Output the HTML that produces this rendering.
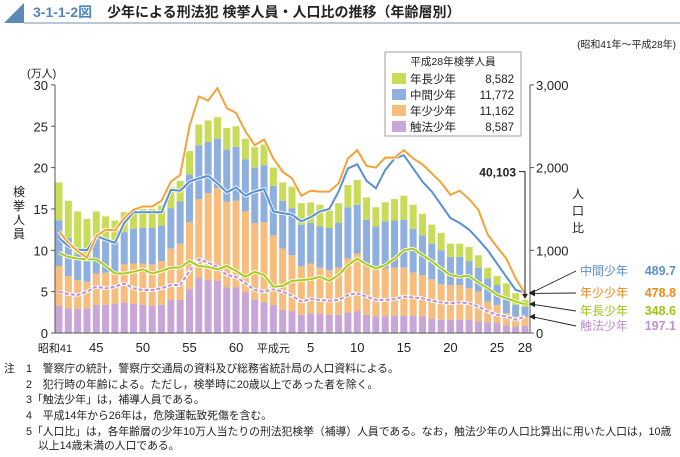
<!DOCTYPE html>
<html><head><meta charset="utf-8"><style>
body{margin:0;background:#fff;width:680px;height:452px;overflow:hidden;font-family:"Liberation Sans","Noto Sans CJK JP",sans-serif;}
svg text{font-family:"Liberation Sans","Noto Sans CJK JP",sans-serif;}
</style></head><body>
<svg id="c" width="680" height="452" viewBox="0 0 680 452" xmlns="http://www.w3.org/2000/svg">
<polygon points="4,23 24,3 24,23" fill="#5b8ab8"/>
<line x1="24" y1="23" x2="680" y2="23" stroke="#9fb5cc" stroke-width="1.5"/>
<text x="33" y="17" font-size="14" font-weight="bold" fill="#4f86c0">3-1-1-2図</text>
<text x="107" y="17" font-size="14" font-weight="bold" fill="#222">少年による刑法犯 検挙人員・人口比の推移（年齢層別）</text>
<text x="676" y="48" font-size="10" fill="#222" text-anchor="end">(昭和41年～平成28年)</text>
<text x="27" y="77" font-size="11" fill="#222">(万人)</text>
<g font-size="12" fill="#222">
<text x="19" y="196" text-anchor="middle">検</text><text x="19" y="210" text-anchor="middle">挙</text><text x="19" y="224" text-anchor="middle">人</text><text x="19" y="238" text-anchor="middle">員</text></g>
<g font-size="12" fill="#222">
<text x="578" y="198" text-anchor="middle">人</text><text x="578" y="215" text-anchor="middle">口</text><text x="578" y="232" text-anchor="middle">比</text></g>
<g id="bars"></g><g id="lines"></g><g id="axes"></g>
<g>
<rect x="385" y="52" width="136" height="84" fill="#fff" stroke="#888" stroke-width="0.8"/>
<text x="453" y="65" font-size="10.5" text-anchor="middle" fill="#222">平成28年検挙人員</text>
<g id="leg"></g></g>
<g id="endlabels"></g>
<g font-size="10.8" fill="#222">
<text x="4" y="372">注</text>
<text x="26" y="372">1　警察庁の統計，警察庁交通局の資料及び総務省統計局の人口資料による。</text>
<text x="26" y="388">2　犯行時の年齢による。ただし，検挙時に20歳以上であった者を除く。</text>
<text x="26" y="403">3「触法少年」は，補導人員である。</text>
<text x="26" y="419">4　平成14年から26年は，危険運転致死傷を含む。</text>
<text x="26" y="435">5「人口比」は，各年齢層の少年10万人当たりの刑法犯検挙（補導）人員である。なお，触法少年の人口比算出に用いた人口は，10歳</text>
<text x="38" y="449">以上14歳未満の人口である。</text>
</g>
</svg>
<script>
const years=["昭和41","42","43","44","45","46","47","48","49","50","51","52","53","54","55","56","57","58","59","60","61","62","63","平成元","2","3","4","5","6","7","8","9","10","11","12","13","14","15","16","17","18","19","20","21","22","23","24","25","26","27","28"];
const xTickLabels={0:"昭和41",4:"45",9:"50",14:"55",19:"60",23:"平成元",27:"5",32:"10",37:"15",42:"20",47:"25",50:"28"};
const shokuho=[3.3,3.0,2.9,3.0,3.4,3.4,3.5,3.7,3.5,3.4,3.3,3.4,4.0,4.0,5.3,6.7,6.4,6.3,5.5,5.5,4.9,4.0,3.7,3.4,2.8,2.6,2.2,2.4,2.3,2.2,2.2,2.5,2.6,2.2,2.0,2.0,2.1,2.1,2.1,2.0,1.7,1.6,1.6,1.6,1.6,1.4,1.3,1.2,0.9,0.8,0.8587];
const nensho=[4.8,3.9,3.5,3.2,3.8,3.9,3.9,4.6,4.9,5.0,5.0,5.3,6.2,6.8,8.1,9.5,10.5,11.2,10.4,10.5,9.8,9.3,9.7,8.4,7.4,6.8,5.9,6.0,5.6,5.4,5.7,6.5,7.0,6.0,5.8,5.8,5.8,5.8,5.2,5.0,4.8,4.3,4.2,4.2,3.8,3.6,2.5,2.2,1.5,1.2,1.1162];
const chukan=[5.5,4.6,3.1,3.1,4.2,4.0,3.6,3.9,4.2,4.3,4.4,4.3,4.9,5.1,5.8,6.5,6.2,6.0,6.3,6.5,6.3,6.7,6.9,6.0,5.8,5.7,5.0,4.9,5.0,5.1,5.4,6.2,5.9,5.5,5.1,5.7,5.7,5.8,5.3,4.8,4.3,4.1,3.4,3.4,3.3,2.9,2.8,2.4,2.0,1.4,1.1772];
const nencho=[4.6,4.5,5.2,4.5,3.3,2.8,2.6,2.4,2.2,2.3,2.3,2.4,2.5,2.5,2.8,2.5,2.6,2.6,2.6,2.5,2.5,2.5,2.5,2.2,2.2,2.6,2.6,2.5,2.6,2.1,2.4,2.7,3.0,2.7,2.3,2.3,2.6,2.9,2.9,2.6,2.3,2.1,1.6,1.6,1.7,1.5,1.3,1.1,1.6,1.4,0.8582];
const rateNensho=[1230,1090,990,910,1170,1250,1240,1390,1490,1530,1530,1600,1830,1910,2500,2860,2810,2960,2720,2660,2440,2270,2340,2110,1950,1870,1660,1720,1710,1710,1810,2110,2210,2020,2000,2120,2120,2210,2110,2040,1930,1820,1670,1720,1620,1490,1190,1040,900,660,478.8];
const rateChukan=[1150,1050,1010,1000,1170,1130,1090,1330,1460,1460,1460,1460,1730,1720,1830,1870,1900,1810,1700,1760,1660,1710,1740,1470,1450,1430,1350,1400,1470,1500,1710,1990,2040,1840,1750,1970,2110,2150,1990,1830,1710,1550,1390,1330,1250,1130,1000,840,680,520,489.7];
const rateNencho=[970,920,900,890,890,810,720,720,740,770,720,750,790,790,870,810,800,770,810,750,680,740,700,560,570,630,640,650,680,630,700,820,900,830,780,820,900,1000,1020,940,870,780,700,680,690,610,540,460,420,380,348.6];
const rateShokuho=[500,470,460,500,560,540,560,600,540,520,520,540,580,580,750,890,850,800,700,680,600,520,500,530,500,450,380,410,400,390,400,460,480,440,400,400,410,440,430,420,390,370,360,370,360,320,260,220,200,160,197.1];
const legendNames=["年長少年","中間少年","年少少年","触法少年"];
const legendValues=["8,582","11,772","11,162","8,587"];
const endNames=["中間少年","年少少年","年長少年","触法少年"];
const endValues=["489.7","478.8","348.6","197.1"];
const yTicks=[0,5,10,15,20,25,30];
const y2Ticks=[0,1000,2000,3000];
const y2TickLabels=["0","1,000","2,000","3,000"];
const totalLabel="40,103";

const NS="http://www.w3.org/2000/svg";
const X0=59,DX=9.32,Y0=333,PX=8.27,BW=7;
const xs=i=>X0+i*DX, ys=v=>Y0-v*PX, ys2=v=>Y0-v/100*PX;
function mk(t,a,p){const e=document.createElementNS(NS,t);for(const k in a)e.setAttribute(k,a[k]);p.appendChild(e);return e;}
const cols={sh:"#c9a6d8",ns:"#f7bd7c",ck:"#8fb0de",nc:"#c8dc5a"};
const bars=document.getElementById('bars');
const series=[[shokuho,cols.sh,'shokuho'],[nensho,cols.ns,'nensho'],[chukan,cols.ck,'chukan'],[nencho,cols.nc,'nencho']];
years.forEach((y,i)=>{let base=0;series.forEach(([arr,c,n])=>{const v=arr[i];
 const r=mk('rect',{x:xs(i)-BW/2,y:ys(base+v),width:BW,height:v*PX,fill:c},bars);
 
 
 base+=v;});});
const lines=document.getElementById('lines');
function line(arr,c,n,dash){const pts=arr.map((v,i)=>xs(i)+','+ys2(v)).join(' ');
 mk('polyline',{points:pts,fill:'none',stroke:'#fff','stroke-width':3.6},lines);
 const p=mk('polyline',{points:pts,fill:'none',stroke:c,'stroke-width':2,'stroke-dasharray':dash||'none'},lines);
 
 }
line(rateShokuho,'#c08fd6','rate-shokuho','4,2');
line(rateNencho,'#a9cc1e','rate-nencho');
line(rateChukan,'#5a8fd0','rate-chukan');
line(rateNensho,'#f2a33a','rate-nensho');
const ax=document.getElementById('axes');
mk('line',{x1:55,y1:85,x2:55,y2:Y0,stroke:'#555','stroke-width':1},ax);
mk('line',{x1:55,y1:Y0,x2:530,y2:Y0,stroke:'#555','stroke-width':1},ax);
mk('line',{x1:530,y1:85,x2:530,y2:Y0,stroke:'#555','stroke-width':1},ax);
yTicks.forEach(v=>{mk('line',{x1:51,y1:ys(v),x2:55,y2:ys(v),stroke:'#555'},ax);
 const t=mk('text',{x:48,y:ys(v)+5,'font-size':13,'text-anchor':'end',fill:'#222'},ax);t.textContent=v;
 
 });
y2Ticks.forEach((v,k)=>{mk('line',{x1:530,y1:ys2(v),x2:534,y2:ys2(v),stroke:'#555'},ax);
 const t=mk('text',{x:536,y:ys2(v)+5,'font-size':13,fill:'#222'},ax);t.textContent=y2TickLabels[k];
 
 });
Object.keys(xTickLabels).forEach(k=>{const i=+k;const lab=xTickLabels[k];
 const t=mk('text',{x:xs(i),y:352,'font-size':lab.length>2?11:13,'text-anchor':'middle',fill:'#222'},ax);t.textContent=lab;
 if(i===0)t.setAttribute('x',xs(i)-4);
 
 });
const last=years.length-1, tot=shokuho[last]+nensho[last]+chukan[last]+nencho[last];
mk('path',{d:`M519,${ys(20)+4} H525 V${ys(tot)-3}`,fill:'none',stroke:'#222','stroke-width':1},ax);
mk('polygon',{points:`${xs(last)-3},${ys(tot)-6} ${xs(last)+3},${ys(tot)-6} ${xs(last)},${ys(tot)-1}`,fill:'#222'},ax);
const tl=mk('text',{x:516,y:ys(20)+9,'font-size':12,'font-weight':'bold','text-anchor':'end',fill:'#222'},ax);tl.textContent=totalLabel;


const leg=document.getElementById('leg');const lc=[cols.nc,cols.ck,cols.ns,cols.sh];
legendNames.forEach((n,k)=>{const y=73+k*16;mk('rect',{x:392,y:y,width:14,height:11,fill:lc[k]},leg);
 const a=mk('text',{x:410,y:y+10,'font-size':11.5,fill:'#222'},leg);a.textContent=n;
 const b=mk('text',{x:514,y:y+10,'font-size':11.5,'text-anchor':'end',fill:'#222'},leg);b.textContent=legendValues[k];
 
 });
const el=document.getElementById('endlabels');
const ec=['#5a8fd0','#ee8a1a','#a2c21a','#c08fd6'];const ey=[275,297,315,330];
const endVals=[rateChukan[last],rateNensho[last],rateNencho[last],rateShokuho[last]];
endNames.forEach((n,k)=>{const a=mk('text',{x:580,y:ey[k],'font-size':12,fill:ec[k]},el);a.textContent=n;
 
 
 const b=mk('text',{x:676,y:ey[k],'font-size':12.5,'font-weight':'bold','text-anchor':'end',fill:ec[k]},el);b.textContent=endValues[k];
 const ty=ys2(endVals[k]);const tx=xs(last)+4;
 mk('line',{x1:576,y1:ey[k]-4,x2:tx+3,y2:ty,stroke:'#222','stroke-width':0.9},el);
 mk('polygon',{points:`${tx},${ty} ${tx+6},${ty-3} ${tx+6},${ty+3}`,fill:'#222'},el);});
</script>
</body></html>
